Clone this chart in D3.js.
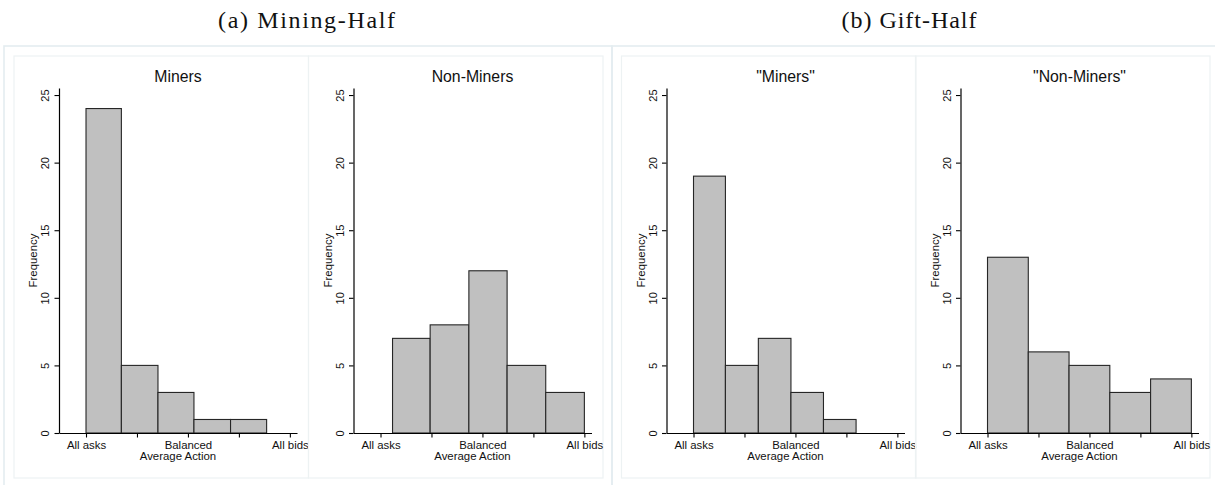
<!DOCTYPE html>
<html>
<head>
<meta charset="utf-8">
<script src="https://cdn.jsdelivr.net/npm/d3@7"></script>
<style>
  html, body { margin: 0; padding: 0; background: #ffffff; }
  svg { display: block; }
</style>
</head>
<body>
<svg id="chart" width="1215" height="485"></svg>
<script>
// ---- data ----
const groupTitles = ["(a) Mining-Half", "(b) Gift-Half"];
const panelTitles = ["Miners", "Non-Miners", "\"Miners\"", "\"Non-Miners\""];

// bin edges (Average Action, -1 = all asks, 1 = all bids)
const edgesMiningMiners    = [-1, -0.653, -0.294, 0.059, 0.418, 0.772];
const edgesMiningNonMiners = [-0.882, -0.513, -0.133, 0.242, 0.621, 1.0];
const edgesGiftMiners      = [-1, -0.687, -0.364, -0.044, 0.275, 0.595];
const edgesGiftNonMiners   = [-1, -0.6, -0.2, 0.2, 0.6, 1.0];

// frequencies per bin
const freqMiningMiners    = [24, 5, 3, 1, 1];
const freqMiningNonMiners = [7, 8, 12, 5, 3];
const freqGiftMiners      = [19, 5, 7, 3, 1];
const freqGiftNonMiners   = [13, 6, 5, 3, 4];

const yTicks = [0, 5, 10, 15, 20, 25];
const xTickValues = [-1, -0.5, 0, 0.5, 1];
const xTickLabels = ["All asks", "", "Balanced", "", "All bids"];
const xLabel = "Average Action";
const yLabel = "Frequency";

const panelEdges = [edgesMiningMiners, edgesMiningNonMiners, edgesGiftMiners, edgesGiftNonMiners];
const panelFreqs = [freqMiningMiners, freqMiningNonMiners, freqGiftMiners, freqGiftNonMiners];

// ---- layout ----
const svg = d3.select("#chart");
const sans = "'Liberation Sans', Arial, Helvetica, sans-serif";
const serif = "'Liberation Serif', 'Times New Roman', serif";

const outerFrames = [
  {x: 4, y: 46, w: 608, h: 444},
  {x: 612, y: 46, w: 610, h: 444}
];
const groupCenters = [306.5, 909];
const groupWidths = [177, 135];
const panelX = [14, 308.5, 621.5, 915.5];
const panelW = 294.5;
const panelTop = 56, panelBottom = 478;
const plotTop = 88, plotBottom = 433;

// outer frames
outerFrames.forEach(f => {
  svg.append("rect")
    .attr("x", f.x).attr("y", f.y).attr("width", f.w).attr("height", f.h)
    .attr("fill", "none").attr("stroke", "#e4edf0").attr("stroke-width", 1.6);
});

// group titles
groupTitles.forEach((t, i) => {
  svg.append("text")
    .attr("x", groupCenters[i]).attr("y", 28)
    .attr("text-anchor", "middle")
    .attr("font-family", serif)
    .attr("font-size", 24)
    .attr("fill", "#111")
    .attr("textLength", groupWidths[i])
    .attr("lengthAdjust", "spacing")
    .text(t);
});

const y = d3.scaleLinear().domain([0, 25.52]).range([plotBottom, plotTop]);

panelTitles.forEach((title, p) => {
  const px = panelX[p];
  const left = px + 45, right = px + 283;
  const cx = (left + right) / 2;
  const x = d3.scaleLinear().domain([-1.265, 1.07]).range([left, right]);

  // inner panel border
  svg.append("rect")
    .attr("x", px).attr("y", panelTop).attr("width", panelW).attr("height", panelBottom - panelTop)
    .attr("fill", "none").attr("stroke", "#edf2f3").attr("stroke-width", 1.2);

  const g = svg.append("g");

  // bars
  const edges = panelEdges[p];
  const freqs = panelFreqs[p];
  const bins = freqs.map((f, i) => ({x0: edges[i], x1: edges[i + 1], f: f}));
  g.selectAll("rect.bar").data(bins).enter().append("rect")
    .attr("class", "bar")
    .attr("x", d => x(d.x0))
    .attr("width", d => x(d.x1) - x(d.x0))
    .attr("y", d => y(d.f))
    .attr("height", d => y(0) - y(d.f))
    .attr("fill", "#c0c0c0")
    .attr("stroke", "#262626")
    .attr("stroke-width", 1.1);

  // y axis
  const ya = g.append("g").attr("transform", `translate(${left},0)`)
    .call(d3.axisLeft(y).tickValues(yTicks).tickSize(4.5).tickSizeOuter(0));
  ya.select(".domain").attr("stroke", "#000").attr("stroke-width", 1.2);
  ya.selectAll(".tick line").attr("stroke", "#000").attr("stroke-width", 1.1);
  ya.selectAll(".tick text")
    .attr("x", null).attr("dy", null)
    .attr("transform", "translate(-10,0) rotate(-90)")
    .attr("text-anchor", "middle")
    .attr("font-family", sans).attr("font-size", 11).attr("fill", "#111");

  // x axis
  const xa = g.append("g").attr("transform", `translate(0,${plotBottom})`)
    .call(d3.axisBottom(x).tickValues(xTickValues)
      .tickFormat((d, i) => xTickLabels[i]).tickSize(4.5).tickSizeOuter(0));
  xa.select(".domain").attr("stroke", "#000").attr("stroke-width", 1.2);
  xa.selectAll(".tick line").attr("stroke", "#000").attr("stroke-width", 1.1);
  xa.selectAll(".tick text")
    .attr("y", 16).attr("dy", null)
    .attr("font-family", sans).attr("font-size", 11.4).attr("fill", "#111");

  // axis titles
  g.append("text")
    .attr("x", cx).attr("y", 459.5)
    .attr("text-anchor", "middle")
    .attr("font-family", sans).attr("font-size", 11.4).attr("fill", "#111")
    .text(xLabel);
  g.append("text")
    .attr("transform", `translate(${left - 22},${(plotTop + plotBottom) / 2}) rotate(-90)`)
    .attr("text-anchor", "middle")
    .attr("font-family", sans).attr("font-size", 11.4).attr("fill", "#111")
    .text(yLabel);

  // panel title
  g.append("text")
    .attr("x", cx).attr("y", 81.5)
    .attr("text-anchor", "middle")
    .attr("font-family", sans).attr("font-size", 15.8).attr("fill", "#111")
    .text(title);
});
</script>
</body>
</html>
